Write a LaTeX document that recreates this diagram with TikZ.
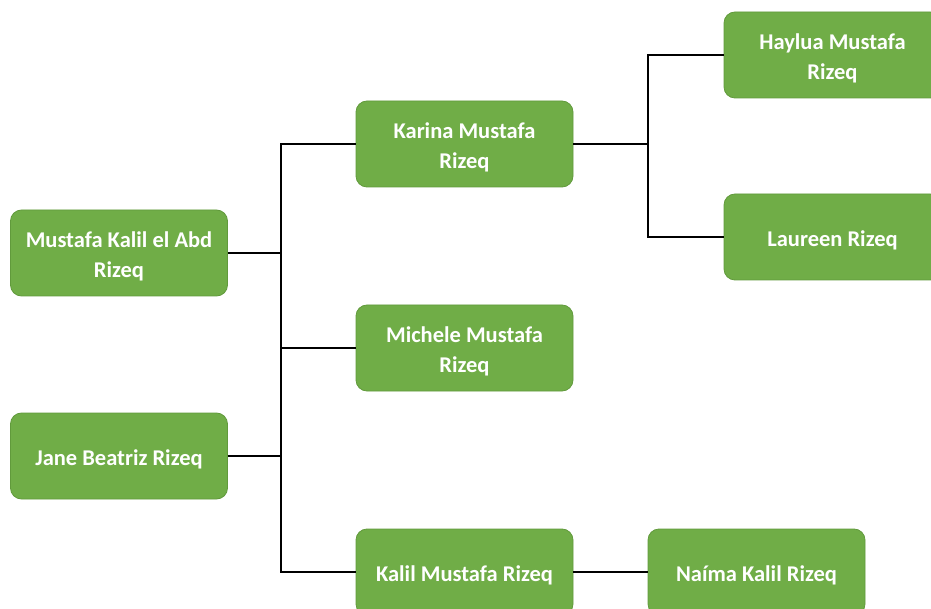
\documentclass[tikz,border=0pt]{standalone}
\usepackage{fontspec}
\setmainfont{Carlito}
\definecolor{boxgreen}{HTML}{70AD47}
\definecolor{boxedge}{HTML}{619A3C}
\begin{document}
\begin{tikzpicture}[x=1pt,y=-1pt,
  person/.style={draw=boxedge, line width=0.8pt, fill=boxgreen, rounded corners=11pt,
    minimum width=217pt, minimum height=86pt, inner sep=0pt,
    text=white, align=flush center, text width=205pt,
    execute at begin node={\rule{0pt}{22pt}},
    font=\fontsize{22.5}{30}\selectfont\bfseries},
  link/.style={line width=1.8pt, black}]
\useasboundingbox (0,0) rectangle (931,609);
\clip (0,0) rectangle (931,609);
\fill[white] (0,0) rectangle (931,609);
\node[person] (mus) at (119,253) {Mustafa Kalil el Abd\\Rizeq};
\node[person] (jan) at (119,456) {Jane Beatriz Rizeq};
\node[person] (kar) at (464.5,144) {Karina Mustafa\\Rizeq};
\node[person] (mic) at (464.5,348) {Michele Mustafa\\Rizeq};
\node[person] (kal) at (464.5,572) {Kalil Mustafa Rizeq};
\node[person] (hay) at (832.5,55) {Haylua Mustafa\\Rizeq};
\node[person] (lau) at (832.5,237) {Laureen Rizeq};
\node[person] (nai) at (756.5,572) {Na\'{\i}ma Kalil Rizeq};
\coordinate (j1) at (281,253);
\coordinate (j2) at (648,144);
\draw[link] (mus.east) -- (j1);
\draw[link] (kar.west) -| (j1) |- (kal.west);
\draw[link] (mic.west) -- (mic.west -| j1);
\draw[link] (jan.east) -- (jan.east -| j1);
\draw[link] (kar.east) -- (j2);
\draw[link] (hay.west) -| (j2) |- (lau.west);
\draw[link] (kal.east) -- (nai.west);
\end{tikzpicture}
\end{document}
